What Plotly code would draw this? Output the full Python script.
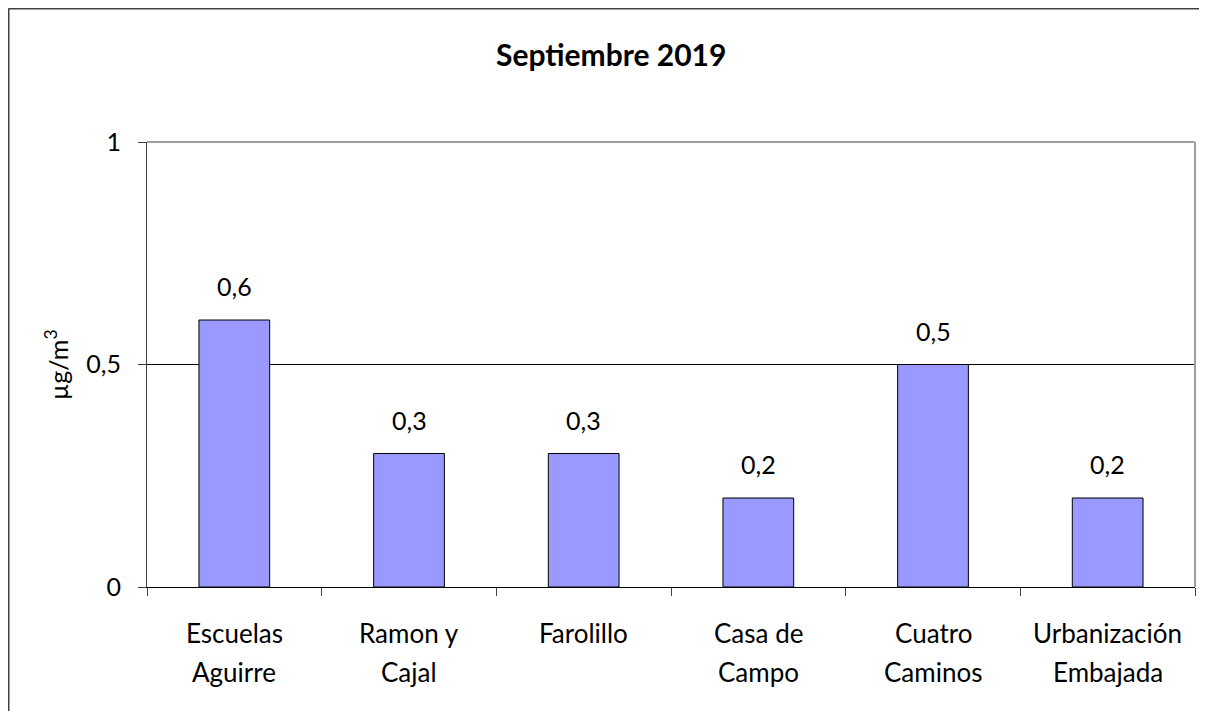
import plotly.graph_objects as go

categories = ["Escuelas\nAguirre", "Ramon y\nCajal", "Farolillo", "Casa de\nCampo", "Cuatro\nCaminos", "Urbanización\nEmbajada"]
values = [0.6, 0.3, 0.3, 0.2, 0.5, 0.2]
value_labels = ["0,6", "0,3", "0,3", "0,2", "0,5", "0,2"]
y_tickvals = [0, 0.5, 1]
y_ticktext = ["0", "0,5", "1"]
title_text = "Septiembre 2019"
y_title = "µg/m<sup>3</sup>"

W, H = 1199, 703
L, R, T, B = 139, 12, 134, 124
pw, ph = W - L - R, H - T - B

FONT = "Lato, Open Sans, sans-serif"

xs = list(range(len(categories)))
fig = go.Figure()
fig.add_trace(go.Bar(
    x=xs, y=values, width=0.405,
    marker=dict(color="#9999FF", line=dict(color="#000000", width=1)),
    hoverinfo="skip",
))

ann = []
for i, (v, t) in enumerate(zip(values, value_labels)):
    ann.append(dict(x=i, y=v, xref="x", yref="y", text=t, showarrow=False,
                    yanchor="middle", yshift=34, font=dict(size=25, color="#000")))
for i, c in enumerate(categories):
    lines = c.split("\n")
    for j, line in enumerate(lines):
        ann.append(dict(x=i, y=0, xref="x", yref="y", text=line, showarrow=False,
                        yanchor="middle", yshift=-46 - 39 * j, font=dict(size=26, color="#000")))
ann.append(dict(x=(602.5 - L) / pw, y=(H - B - 46) / ph, xref="paper", yref="paper",
                text="<b>" + title_text + "</b>", showarrow=False,
                font=dict(size=30, color="#000"), xanchor="center", yanchor="middle"))
ann.append(dict(x=(48 - L) / pw, y=(H - B - 357) / ph, xref="paper", yref="paper",
                text=y_title, showarrow=False, textangle=-90,
                font=dict(size=25, color="#000"), xanchor="center", yanchor="middle"))

shapes = [
    # outer chart frame (left and top edges visible)
    dict(type="line", xref="paper", yref="paper",
         x0=(0.5 - L) / pw, x1=(W - L) / pw, y0=(H - B - 0.5) / ph, y1=(H - B - 0.5) / ph,
         line=dict(color="#404040", width=2), layer="below"),
    dict(type="line", xref="paper", yref="paper",
         x0=(0.5 - L) / pw, x1=(0.5 - L) / pw, y0=(H - B - 0.5) / ph, y1=(H - B - H) / ph,
         line=dict(color="#404040", width=2), layer="below"),
    # plot border top/right gray
    dict(type="line", xref="paper", yref="paper", x0=0, x1=1, y0=1, y1=1,
         line=dict(color="#a0a0a0", width=2), layer="above"),
    dict(type="line", xref="paper", yref="paper", x0=1, x1=1, y0=0, y1=1,
         line=dict(color="#a0a0a0", width=2), layer="above"),
]

fig.update_layout(
    width=W, height=H,
    margin=dict(l=L, r=R, t=T, b=B),
    paper_bgcolor="white", plot_bgcolor="white",
    font=dict(family=FONT, size=25, color="#000"),
    showlegend=False,
    annotations=ann,
    shapes=shapes,
    xaxis=dict(
        range=[-0.5, len(categories) - 0.5],
        tickvals=[i - 0.5 for i in range(len(categories) + 1)],
        ticktext=[""] * (len(categories) + 1),
        ticks="outside", ticklen=8, tickcolor="#404040", tickwidth=1,
        showline=True, linecolor="#000", linewidth=1,
        showgrid=False, zeroline=False, fixedrange=True,
    ),
    yaxis=dict(
        range=[0, 1],
        tickvals=y_tickvals, ticktext=y_ticktext,
        ticks="outside", ticklen=8, tickcolor="#404040", tickwidth=1,
        ticklabelstandoff=12,
        showline=True, linecolor="#404040", linewidth=1,
        showgrid=True, gridcolor="#000", gridwidth=1,
        zeroline=False, tickfont=dict(size=25), fixedrange=True,
    ),
)

fig.write_html("out.html", config={"displayModeBar": False},
               post_script="document.documentElement.style.overflow='hidden';document.body.style.overflow='hidden';")
